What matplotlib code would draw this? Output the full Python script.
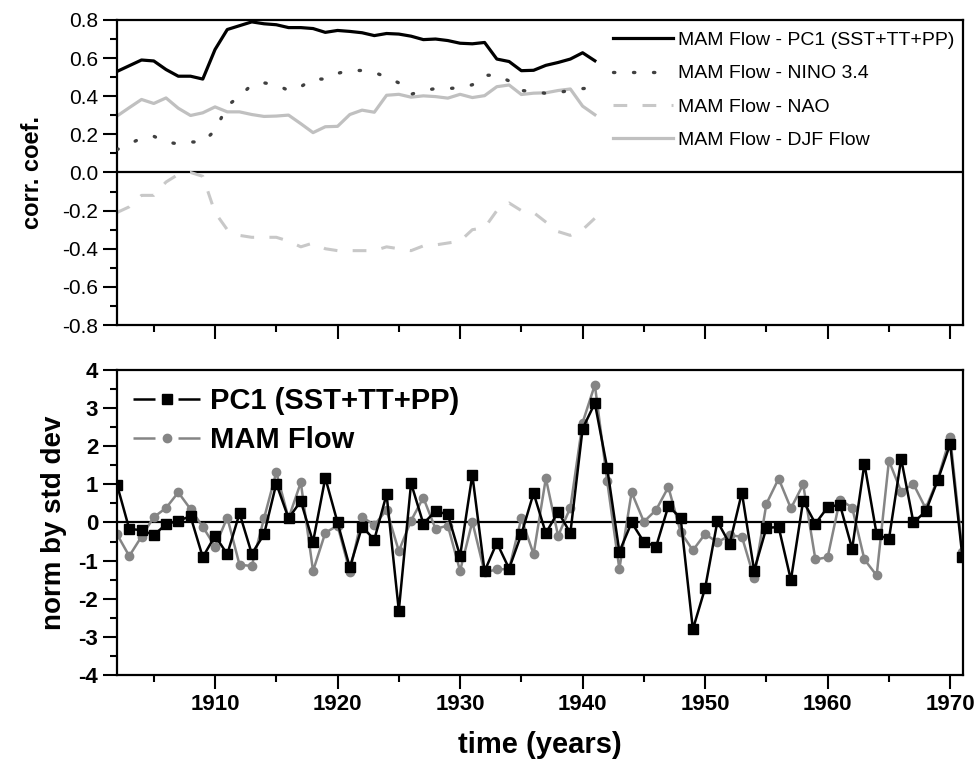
import matplotlib
matplotlib.use('Agg')
import matplotlib.pyplot as plt
from matplotlib.lines import Line2D
from matplotlib.ticker import MultipleLocator

plt.rcParams['font.family'] = ['Liberation Sans', 'DejaVu Sans']
plt.rcParams['axes.unicode_minus'] = False

# running correlations (top panel)
years_corr = list(range(1902, 1942))
pc1_corr = [0.53, 0.56, 0.59, 0.585, 0.54, 0.505, 0.505, 0.49, 0.645, 0.75,
            0.77, 0.79, 0.78, 0.775, 0.76, 0.76, 0.755, 0.735, 0.745, 0.74,
            0.733, 0.718, 0.729, 0.726, 0.715, 0.697, 0.70, 0.692, 0.678, 0.675,
            0.682, 0.595, 0.582, 0.534, 0.536, 0.562, 0.577, 0.595, 0.628, 0.586]
nino_corr = [0.12, 0.15, 0.18, 0.19, 0.16, 0.15, 0.16, 0.16, 0.22, 0.35,
             0.40, 0.46, 0.47, 0.46, 0.43, 0.45, 0.49, 0.49, 0.52, 0.535,
             0.535, 0.525, 0.50, 0.47, 0.41, 0.43, 0.44, 0.44, 0.445, 0.46,
             0.51, 0.51, 0.48, 0.43, 0.425, 0.415, 0.42, 0.43, 0.44, 0.445]
nao_corr = [-0.21, -0.18, -0.12, -0.12, -0.05, -0.01, 0.0, -0.02, -0.21, -0.30,
            -0.33, -0.34, -0.34, -0.34, -0.36, -0.39, -0.37, -0.40, -0.41, -0.41,
            -0.41, -0.41, -0.39, -0.40, -0.41, -0.385, -0.38, -0.37, -0.36, -0.30,
            -0.29, -0.20, -0.16, -0.20, -0.21, -0.26, -0.31, -0.33, -0.30, -0.24]
djf_corr = [0.296, 0.34, 0.383, 0.362, 0.391, 0.337, 0.299, 0.313, 0.344, 0.318,
            0.318, 0.304, 0.294, 0.296, 0.301, 0.256, 0.209, 0.24, 0.242, 0.304,
            0.327, 0.316, 0.405, 0.41, 0.395, 0.402, 0.398, 0.39, 0.41, 0.393,
            0.403, 0.45, 0.459, 0.409, 0.416, 0.418, 0.43, 0.438, 0.348, 0.303]

# normalised series (bottom panel)
years = list(range(1902, 1972))
pc1 = [0.99, -0.17, -0.20, -0.33, -0.05, 0.05, 0.16, -0.91,
       -0.35, -0.83, 0.24, -0.82, -0.31, 1.02, 0.11, 0.56, -0.51, 1.17,
       0.0, -1.18, -0.11, -0.45, 0.74, -2.31, 1.03, -0.03, 0.30, 0.21,
       -0.88, 1.25, -1.28, -0.53, -1.21, -0.31, 0.77, -0.28, 0.28, -0.28,
       2.46, 3.13, 1.44, -0.77, 0.0, -0.51, -0.63, 0.43, 0.12, -2.80,
       -1.72, 0.03, -0.56, 0.78, -1.26, -0.14, -0.12, -1.51, 0.57, -0.03,
       0.40, 0.47, -0.69, 1.54, -0.31, -0.44, 1.67, 0.0, 0.29, 1.12,
       2.06, -0.91]
mam_flow = [-0.31, -0.88, -0.37, 0.14, 0.38, 0.79, 0.35, -0.11,
            -0.63, 0.13, -1.11, -1.14, 0.11, 1.32, 0.11, 1.05, -1.27, -0.27,
            -0.08, -1.29, 0.15, -0.07, 0.33, -0.75, 0.05, 0.65, -0.17, -0.08,
            -1.27, 0.02, -1.31, -1.23, -1.22, 0.11, -0.83, 1.16, -0.35, 0.39,
            2.62, 3.61, 1.10, -1.22, 0.79, 0.02, 0.33, 0.93, -0.25, -0.73,
            -0.30, -0.52, -0.34, -0.37, -1.46, 0.49, 1.15, 0.37, 1.00, -0.97,
            -0.91, 0.60, 0.39, -0.97, -1.39, 1.62, 0.81, 1.01, 0.37, 1.15,
            2.24, -0.77]

fig = plt.figure(figsize=(9.8, 7.74), dpi=100)
ax1 = fig.add_axes([0.1194, 0.5801, 0.8633, 0.3941])
ax2 = fig.add_axes([0.1194, 0.1279, 0.8633, 0.3941])

for ax in (ax1, ax2):
    for sp in ax.spines.values():
        sp.set_linewidth(1.6)
    ax.set_xlim(1902, 1971.05)
    ax.xaxis.set_major_locator(MultipleLocator(10))
    ax.xaxis.set_minor_locator(MultipleLocator(5))
    ax.tick_params(which='major', direction='out', length=10, width=1.5,
                   top=False, right=False)
    ax.tick_params(which='minor', direction='out', length=5, width=1.5,
                   top=False, right=False)
    ax.axhline(0, color='black', lw=1.6, zorder=1)

# top panel
ax1.plot(years_corr, pc1_corr, color='black', lw=2.3,
         label='MAM Flow - PC1 (SST+TT+PP)', zorder=4)
ax1.plot(years_corr, nino_corr, color='#404040', lw=2.4,
         linestyle=(0, (0.4, 5.6)), dash_capstyle='round',
         label='MAM Flow - NINO 3.4', zorder=3)
ax1.plot(years_corr, nao_corr, color='#c8c8c8', lw=2.2,
         linestyle=(0, (4.5, 5.0)), label='MAM Flow - NAO', zorder=2)
ax1.plot(years_corr, djf_corr, color='#c0c0c0', lw=2.3,
         label='MAM Flow - DJF Flow', zorder=2)
ax1.set_ylim(-0.8, 0.8)
ax1.yaxis.set_major_locator(MultipleLocator(0.2))
ax1.yaxis.set_minor_locator(MultipleLocator(0.1))
ax1.set_yticks(ax1.get_yticks())
ax1.set_yticklabels(['%.1f' % v for v in ax1.get_yticks()], fontsize=15)
ax1.set_ylim(-0.8, 0.8)
ax1.tick_params(axis='x', labelbottom=False)
ax1.set_ylabel('corr. coef.', fontsize=17, fontweight='bold', labelpad=13)
ax1.legend(loc='upper left', bbox_to_anchor=(0.586, 0.962), frameon=False,
           fontsize=14, handlelength=3.1, handletextpad=0.25,
           labelspacing=0.8, borderpad=0, borderaxespad=0)

# bottom panel
ax2.plot(years, mam_flow, color='#858585', lw=1.8, marker='o', ms=6,
         label='MAM Flow', zorder=2)
ax2.plot(years, pc1, color='black', lw=1.8, marker='s', ms=6.5,
         label='PC1 (SST+TT+PP)', zorder=3)
ax2.set_ylim(-4, 4)
ax2.yaxis.set_major_locator(MultipleLocator(1))
ax2.yaxis.set_minor_locator(MultipleLocator(0.5))
for lab in ax2.get_xticklabels() + ax2.get_yticklabels():
    lab.set_fontsize(16)
    lab.set_fontweight('bold')
ax2.set_ylabel('norm by std dev', fontsize=20, fontweight='bold', labelpad=8)
ax2.set_xlabel('time (years)', fontsize=21, fontweight='bold', labelpad=12)

# legend handles with a gap around the marker (line - marker - line)
gap_style = (0, (8.8, 9.2, 8.8, 100))
pc1_handle = (Line2D([], [], color='black', lw=1.8, linestyle=gap_style),
              Line2D([], [], color='black', marker='s', ms=6.5, linestyle='none'))
flow_handle = (Line2D([], [], color='#858585', lw=1.8, linestyle=gap_style),
               Line2D([], [], color='#858585', marker='o', ms=6, linestyle='none'))
ax2.legend([pc1_handle, flow_handle], ['PC1 (SST+TT+PP)', 'MAM Flow'],
           loc='upper left', bbox_to_anchor=(0.019, 0.945),
           frameon=False, prop={'size': 21, 'weight': 'bold'},
           handlelength=2.35, handletextpad=0.3, labelspacing=0.38,
           borderpad=0, borderaxespad=0)

fig.savefig('out.png', dpi=100)
